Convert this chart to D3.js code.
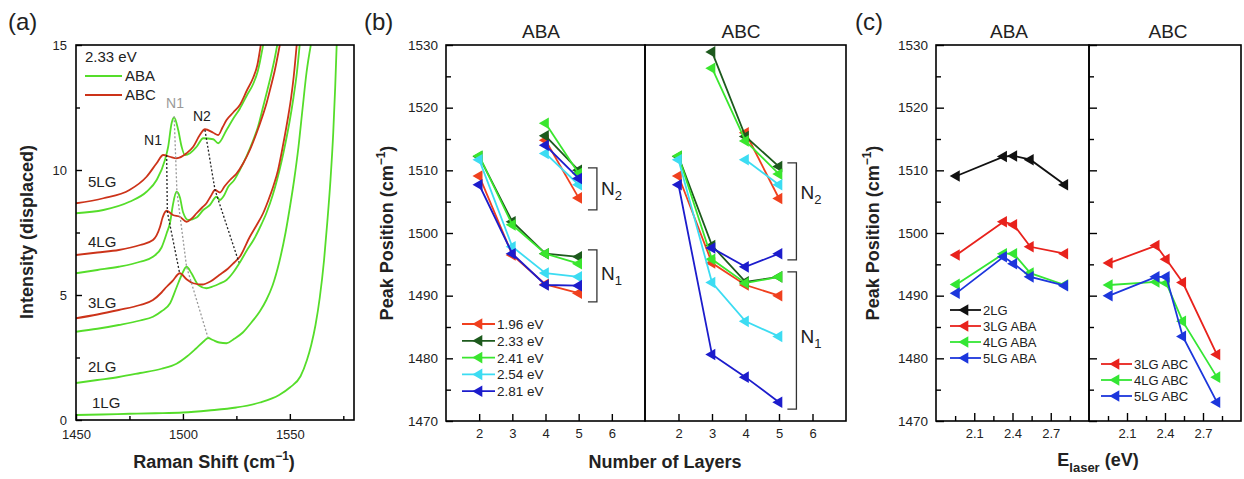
<!DOCTYPE html>
<html>
<head>
<meta charset="utf-8">
<script src="https://cdn.jsdelivr.net/npm/d3@7"></script>
<style>
  body { margin: 0; background: #fff; }
  svg { display: block; }
</style>
</head>
<body>
<svg id="fig" width="1244" height="479"></svg>
<script>
// ---------- (a) Raman spectra at 2.33 eV, vertically displaced: [shift cm^-1, intensity] ----------
const shiftTicks = [1450, 1500, 1550];
const shiftMinor = [1475, 1525, 1575];
const intensityTicks = [0, 5, 10, 15];
const intensityMinor = [2.5, 7.5, 12.5];

const spec1LG = [[1450,0.2],[1462,0.22],[1475,0.25],[1487,0.27],[1500,0.3],[1512,0.38],[1525,0.5],[1536,0.7],[1545,1.0],[1550,1.3],[1555,1.75],[1558,2.4],[1560,3.0],[1562,3.8],[1564,4.9],[1566,6.4],[1567.5,7.9],[1569,9.6],[1570.3,11.5],[1571.2,13.3],[1571.9,15]];
const spec2LG = [[1450,1.48],[1460,1.6],[1470,1.72],[1480,1.88],[1490,2.05],[1497,2.25],[1502,2.55],[1506,2.85],[1509.5,3.13],[1511.8,3.28],[1514,3.2],[1517,3.1],[1520.4,3.07],[1524,3.25],[1528,3.5],[1532,3.9],[1536,4.35],[1539,4.8],[1542,5.4],[1545,6.3],[1548,7.5],[1550,8.5],[1552,9.6],[1554,10.9],[1556,12.5],[1557.8,13.9],[1559.8,15]];
const spec3ABA = [[1450,3.53],[1460,3.65],[1470,3.8],[1480,3.98],[1486,4.13],[1490,4.35],[1494,4.67],[1497,5.3],[1499.4,5.8],[1501.7,6.13],[1504,5.87],[1507.2,5.4],[1511,5.27],[1514.2,5.35],[1517,5.45],[1520.4,5.6],[1523.5,5.9],[1526.6,6.3],[1530,6.8],[1533,7.2],[1536,7.7],[1539,8.27],[1542,9.0],[1544,9.6],[1546,10.3],[1548,11.1],[1550,12.0],[1551.7,12.9],[1553.3,13.9],[1554.6,15]];
const spec3ABC = [[1450,4.07],[1460,4.22],[1470,4.4],[1480,4.6],[1486,4.8],[1490,5.1],[1492.4,5.33],[1495,5.55],[1498.6,5.87],[1501.7,5.63],[1504.8,5.47],[1509,5.42],[1513,5.55],[1517,5.8],[1521,6.05],[1524,6.3],[1526.6,6.53],[1531.3,7.33],[1534.5,7.8],[1537.5,8.27],[1540,8.8],[1542.2,9.33],[1544.5,10.0],[1546.1,10.67],[1547.7,11.4],[1549.2,12.13],[1550.6,12.9],[1551.8,13.73],[1553.2,15]];
const spec4ABA = [[1450,5.87],[1460,6.0],[1470,6.13],[1480,6.33],[1486,6.53],[1490,6.9],[1492.4,7.47],[1494,7.9],[1495.3,8.6],[1497,9.13],[1498.6,8.9],[1500.1,8.3],[1502.5,8.0],[1506.4,8.1],[1509.5,8.4],[1512.6,8.6],[1515.7,8.93],[1517.3,8.8],[1519,8.95],[1521.2,9.33],[1524,9.6],[1526.6,10.0],[1530,10.6],[1532.9,11.2],[1535,11.7],[1537.5,12.53],[1539.5,13.2],[1541.4,13.87],[1543,14.5],[1544.1,15]];
const spec4ABC = [[1450,6.6],[1460,6.7],[1470,6.8],[1480,7.0],[1486,7.2],[1489.3,7.73],[1490.5,8.1],[1492.4,8.37],[1495.3,8.2],[1498.6,8.13],[1501.7,7.93],[1504,8.05],[1506.4,8.27],[1509,8.5],[1511,8.67],[1513,8.95],[1515,9.2],[1517.3,9.1],[1519.5,9.35],[1522,9.6],[1525,9.85],[1528.2,10.27],[1531.3,10.8],[1534.4,11.47],[1537,12.1],[1539.1,12.67],[1541,13.3],[1543,14.0],[1545.3,15]];
const spec5ABA = [[1450,8.27],[1462.8,8.4],[1475,8.73],[1483,9.13],[1487.7,9.6],[1491.6,10.4],[1493.1,10.93],[1494.7,11.87],[1495.9,12.1],[1497.8,11.6],[1499.4,10.93],[1500.9,10.6],[1503.3,10.67],[1506.4,10.93],[1509.5,11.27],[1514.2,11.23],[1516.5,11.07],[1520.4,11.6],[1523.5,12.05],[1526.6,12.45],[1530,13.0],[1532.9,13.45],[1535,13.95],[1537.5,15]];
const spec5ABC = [[1450,8.67],[1462.8,8.87],[1475,9.2],[1483,9.73],[1487.7,10.27],[1490.8,10.6],[1493.9,10.53],[1497.1,10.47],[1501.7,10.67],[1504.8,10.93],[1507.9,11.4],[1510.3,11.63],[1514.2,11.49],[1516.5,11.4],[1518.5,11.7],[1520.4,12.0],[1523.5,12.3],[1526.6,12.6],[1530,13.2],[1532.9,13.7],[1534.8,14.2],[1536.4,15]];

// dotted guides through the N1 / N2 peak positions
const guideN1ABC = [[1492.4,10.6],[1492.7,8.33],[1498.4,5.9]];
const guideN1ABA = [[1495.9,12.15],[1497.2,9.12],[1501.7,6.13],[1511.7,3.3]];
const guideN2ABC = [[1510.3,11.6],[1515,9.2],[1526.2,6.3]];

const layerNames = ["1LG", "2LG", "3LG", "4LG", "5LG"];
const layerLabelY = [0.69, 2.13, 4.69, 7.13, 9.53];

// ---------- (b), (c) peak positions (cm^-1) ----------
const laserEnergies = [1.96, 2.33, 2.41, 2.54, 2.81];
const energyLabels = ["1.96 eV", "2.33 eV", "2.41 eV", "2.54 eV", "2.81 eV"];
const layerTicks = [2, 3, 4, 5, 6];
const peakTicks = [1470, 1480, 1490, 1500, 1510, 1520, 1530];
const peakMinor = [1475, 1485, 1495, 1505, 1515, 1525];
const energyTicks = [2.1, 2.4, 2.7];
const energyMinor = [1.95, 2.25, 2.55, 2.85];

// one value per laser energy
const bilayer   = [1509.1, 1512.2, 1512.3, 1511.7, 1507.7];
const abaN1_3LG = [1496.5, 1501.8, 1501.3, 1497.8, 1496.7];
const abaN1_4LG = [1491.8, 1496.7, 1496.7, 1493.6, 1491.7];
const abaN1_5LG = [1490.4, 1496.2, 1495.1, 1493.0, 1491.6];
const abaN2_4LG = [1514.8, 1515.5, 1517.5, 1512.7, 1514.0];
const abaN2_5LG = [1505.6, 1510.0, 1509.5, 1507.7, 1508.7];
const abcN1_3LG = [1495.2, 1498.0, 1495.8, 1492.1, 1480.6];
const abcN1_4LG = [1491.7, 1492.2, 1492.0, 1485.9, 1477.0];
const abcN1_5LG = [1490.0, 1493.0, 1493.0, 1483.5, 1473.0];
const abcN2_3LG = [null, 1528.9, 1526.3, null, 1497.6];
const abcN2_4LG = [1516.0, 1515.4, 1514.7, 1511.7, 1494.6];
const abcN2_5LG = [1505.5, 1510.6, 1509.4, 1507.7, 1496.7];

const energyColors = ["#f0401e", "#1d5a1d", "#3ae62e", "#3cdcf2", "#1c1ccc"];

const FONT = "'Liberation Sans', Arial, Helvetica, sans-serif";
const svg = d3.select("#fig");

function box(x0, y0, x1, y1) {
  svg.append("rect").attr("x", x0).attr("y", y0)
    .attr("width", x1 - x0).attr("height", y1 - y0)
    .attr("fill", "none").attr("stroke", "#000").attr("stroke-width", 1.6);
}
function addAxis(gen, tx, ty, fs) {
  const g = svg.append("g").attr("transform", `translate(${tx},${ty})`).call(gen);
  g.select(".domain").remove();
  g.selectAll(".tick line").attr("stroke", "#000").attr("stroke-width", 1.4);
  g.selectAll("text").attr("font-family", FONT).attr("font-size", fs || 13).attr("fill", "#222");
  return g;
}
function text(x, y, s, opts = {}) {
  return svg.append("text").attr("x", x).attr("y", y)
    .attr("font-family", FONT).attr("font-size", opts.size || 13)
    .attr("font-weight", opts.bold ? "bold" : "normal")
    .attr("fill", opts.fill || "#222")
    .attr("text-anchor", opts.anchor || "start")
    .text(s);
}
const tri = d3.symbol().type(d3.symbolTriangle).size(58);
function markers(pts, xs, ys, color) {
  svg.append("g").selectAll("path").data(pts).join("path")
    .attr("d", tri)
    .attr("transform", d => `translate(${xs(d[0])},${ys(d[1])}) rotate(-90)`)
    .attr("fill", color);
}
function seriesLine(pts, xs, ys, color, w) {
  svg.append("path").datum(pts)
    .attr("d", d3.line().x(d => xs(d[0])).y(d => ys(d[1])))
    .attr("fill", "none").attr("stroke", color).attr("stroke-width", w || 1.7);
}
const intFmt = d3.format("d");

// panel letters
text(8, 30, "(a)", { size: 24 });
text(364, 30, "(b)", { size: 24 });
text(855, 30, "(c)", { size: 24 });

// =================== (a) ===================
const xA = d3.scaleLinear().domain([1450, 1580]).range([76, 354]);
const yA = d3.scaleLinear().domain([0, 15]).range([420, 45]);
const green = "#55dd2a", red = "#cc3319";

svg.append("clipPath").attr("id", "clipA").append("rect")
  .attr("x", 76).attr("y", 45).attr("width", 278).attr("height", 375);

const lineA = d3.line().x(d => xA(d[0])).y(d => yA(d[1])).curve(d3.curveMonotoneX);
const gA = svg.append("g").attr("clip-path", "url(#clipA)");
const spectra = [
  [spec1LG, green], [spec2LG, green],
  [spec3ABA, green], [spec3ABC, red],
  [spec4ABA, green], [spec4ABC, red],
  [spec5ABA, green], [spec5ABC, red]
];
spectra.forEach(([pts, c]) => {
  gA.append("path").datum(pts).attr("d", lineA)
    .attr("fill", "none").attr("stroke", c).attr("stroke-width", 1.8);
});
const guideLine = d3.line().x(d => xA(d[0])).y(d => yA(d[1]));
[[guideN1ABC, "#222"], [guideN2ABC, "#222"], [guideN1ABA, "#9a9a9a"]].forEach(([pts, c]) => {
  gA.append("path").datum(pts).attr("d", guideLine)
    .attr("fill", "none").attr("stroke", c).attr("stroke-width", 1.3)
    .attr("stroke-dasharray", "2,2");
});

box(76, 45, 354, 420);
addAxis(d3.axisBottom(xA).tickValues(shiftTicks).tickSize(-6).tickPadding(10).tickFormat(intFmt), 0, 420, 13);
addAxis(d3.axisBottom(xA).tickValues(shiftMinor).tickSize(-4).tickFormat(""), 0, 420);
addAxis(d3.axisLeft(yA).tickValues(intensityTicks).tickSize(-6).tickPadding(9).tickFormat(intFmt), 76, 0, 13);
addAxis(d3.axisLeft(yA).tickValues(intensityMinor).tickSize(-4).tickFormat(""), 76, 0);

// layer labels
layerNames.forEach((n, i) => {
  text(xA(i === 0 ? 1457.5 : 1455.6), yA(layerLabelY[i]) + 5, n, { size: 15 });
});
// peak labels
text(xA(1486), yA(11.2) + 5, "N1", { size: 14, anchor: "middle" });
text(xA(1496.3), yA(12.7) + 5, "N1", { size: 14, anchor: "middle", fill: "#999" });
text(xA(1508.9), yA(12.16) + 5, "N2", { size: 14, anchor: "middle" });
// legend
text(85, 62, "2.33 eV", { size: 15 });
svg.append("line").attr("x1", 85).attr("x2", 122).attr("y1", 76).attr("y2", 76).attr("stroke", green).attr("stroke-width", 2);
text(125, 81, "ABA", { size: 15 });
svg.append("line").attr("x1", 85).attr("x2", 122).attr("y1", 95).attr("y2", 95).attr("stroke", red).attr("stroke-width", 2);
text(125, 100, "ABC", { size: 15 });

// axis titles
svg.append("text").attr("transform", "translate(33,232) rotate(-90)")
  .attr("text-anchor", "middle").attr("font-family", FONT).attr("font-size", 18)
  .attr("font-weight", "bold").attr("fill", "#222").text("Intensity (displaced)");
const xtA = svg.append("text").attr("x", 214).attr("y", 468).attr("text-anchor", "middle")
  .attr("font-family", FONT).attr("font-size", 18).attr("font-weight", "bold").attr("fill", "#222");
xtA.append("tspan").text("Raman Shift (cm");
xtA.append("tspan").attr("dy", -8).attr("font-size", 12).text("\u22121");
xtA.append("tspan").attr("dy", 8).text(")");

// =================== (b) ===================
const yP = d3.scaleLinear().domain([1470, 1530]).range([421, 45]);
const xBa = d3.scaleLinear().domain([1, 7]).range([446, 645]);
const xBc = d3.scaleLinear().domain([1, 7]).range([645, 846]);

box(446, 45, 645, 421);
box(645, 45, 846, 421);
[xBa, xBc].forEach(xs => {
  addAxis(d3.axisBottom(xs).tickValues(layerTicks).tickSize(-7).tickPadding(8).tickFormat(intFmt), 0, 421, 13);
});
addAxis(d3.axisLeft(yP).tickValues(peakTicks).tickSize(-7).tickPadding(8).tickFormat(intFmt), 446, 0, 13.5);
addAxis(d3.axisLeft(yP).tickValues(peakMinor).tickSize(-5).tickFormat(""), 446, 0);

text(541, 38, "ABA", { size: 19, anchor: "middle" });
text(741, 38, "ABC", { size: 19, anchor: "middle" });

function pick(layers, arrays, i) {
  return layers.map((L, k) => [L, arrays[k][i]]).filter(d => d[1] != null);
}
laserEnergies.forEach((e, i) => {
  const c = energyColors[i];
  const sets = [
    [xBa, pick([2, 3, 4, 5], [bilayer, abaN1_3LG, abaN1_4LG, abaN1_5LG], i)],
    [xBa, pick([4, 5], [abaN2_4LG, abaN2_5LG], i)],
    [xBc, pick([2, 3, 4, 5], [bilayer, abcN1_3LG, abcN1_4LG, abcN1_5LG], i)],
    [xBc, pick([3, 4, 5], [abcN2_3LG, abcN2_4LG, abcN2_5LG], i)]
  ];
  sets.forEach(([xs, pts]) => {
    seriesLine(pts, xs, yP, c, 1.8);
    markers(pts, xs, yP, c);
  });
});

// N1 / N2 brackets
const brackets = [
  { xs: xBa, x0: 5.28, x1: 5.55, top: 1510.4, bottom: 1503.7, sub: "2", labelY: 1507.1 },
  { xs: xBa, x0: 5.28, x1: 5.55, top: 1497.3, bottom: 1489.0, sub: "1", labelY: 1493.5 },
  { xs: xBc, x0: 5.25, x1: 5.52, top: 1511.2, bottom: 1495.7, sub: "2", labelY: 1506.4 },
  { xs: xBc, x0: 5.25, x1: 5.52, top: 1493.8, bottom: 1471.9, sub: "1", labelY: 1483.4 }
];
brackets.forEach(b => {
  const x0 = b.xs(b.x0), x1 = b.xs(b.x1);
  svg.append("path")
    .attr("d", `M${x0},${yP(b.top)}H${x1}V${yP(b.bottom)}H${x0}`)
    .attr("fill", "none").attr("stroke", "#333").attr("stroke-width", 1.3);
  const t = svg.append("text").attr("x", x1 + 4).attr("y", yP(b.labelY) + 6)
    .attr("font-family", FONT).attr("font-size", 19).attr("fill", "#222");
  t.append("tspan").text("N");
  t.append("tspan").attr("dy", 5).attr("font-size", 13).text(b.sub);
});

// legend (b)
energyLabels.forEach((lab, i) => {
  const y = 324 + i * 16.8;
  svg.append("line").attr("x1", 462).attr("x2", 495).attr("y1", y).attr("y2", y)
    .attr("stroke", energyColors[i]).attr("stroke-width", 1.8);
  svg.append("path").attr("d", tri).attr("transform", `translate(479,${y}) rotate(-90)`).attr("fill", energyColors[i]);
  text(497, y + 5, lab, { size: 13.5 });
});

const tB = svg.append("text").attr("transform", "translate(393,233) rotate(-90)")
  .attr("text-anchor", "middle").attr("font-family", FONT).attr("font-size", 18)
  .attr("font-weight", "bold").attr("fill", "#222");
tB.append("tspan").text("Peak Position (cm");
tB.append("tspan").attr("dy", -8).attr("font-size", 12).text("\u22121");
tB.append("tspan").attr("dy", 8).text(")");
text(665, 468, "Number of Layers", { size: 18, bold: true, anchor: "middle" });

// =================== (c) ===================
const xCa = d3.scaleLinear().domain([1.8, 3.0]).range([936, 1089]);
const xCc = d3.scaleLinear().domain([1.8, 3.0]).range([1089, 1241]);

box(936, 45, 1089, 421);
box(1089, 45, 1241, 421);
[xCa, xCc].forEach(xs => {
  addAxis(d3.axisBottom(xs).tickValues(energyTicks).tickSize(-8).tickPadding(8).tickFormat(d3.format(".1f")), 0, 421, 13);
  addAxis(d3.axisBottom(xs).tickValues(energyMinor).tickSize(-5).tickFormat(""), 0, 421);
});
addAxis(d3.axisLeft(yP).tickValues(peakTicks).tickSize(-8).tickPadding(8).tickFormat(intFmt), 936, 0, 13.5);
addAxis(d3.axisLeft(yP).tickValues(peakMinor).tickSize(-5).tickFormat(""), 936, 0);
addAxis(d3.axisLeft(yP).tickValues(peakTicks).tickSize(-8).tickFormat(""), 1089, 0);
addAxis(d3.axisLeft(yP).tickValues(peakMinor).tickSize(-5).tickFormat(""), 1089, 0);

text(1009, 38, "ABA", { size: 19, anchor: "middle" });
text(1168, 38, "ABC", { size: 19, anchor: "middle" });

const cBlack = "#111111", cRed = "#e8221c", cGreen = "#34e634", cBlue = "#1c36dc";
const abaSeries = [
  ["2LG", bilayer, cBlack], ["3LG ABA", abaN1_3LG, cRed],
  ["4LG ABA", abaN1_4LG, cGreen], ["5LG ABA", abaN1_5LG, cBlue]
];
const abcSeries = [
  ["3LG ABC", abcN1_3LG, cRed], ["4LG ABC", abcN1_4LG, cGreen], ["5LG ABC", abcN1_5LG, cBlue]
];
abaSeries.forEach(([n, vals, c]) => {
  const pts = laserEnergies.map((e, i) => [e, vals[i]]);
  seriesLine(pts, xCa, yP, c, 1.8);
  markers(pts, xCa, yP, c);
});
abcSeries.forEach(([n, vals, c]) => {
  const pts = laserEnergies.map((e, i) => [e, vals[i]]);
  seriesLine(pts, xCc, yP, c, 1.8);
  markers(pts, xCc, yP, c);
});

function legendC(series, xl, y0) {
  series.forEach(([n, vals, c], i) => {
    const y = y0 + i * 16;
    svg.append("line").attr("x1", xl).attr("x2", xl + 31).attr("y1", y).attr("y2", y)
      .attr("stroke", c).attr("stroke-width", 1.8);
    svg.append("path").attr("d", tri).attr("transform", `translate(${xl + 15},${y}) rotate(-90)`).attr("fill", c);
    text(xl + 33, y + 5, n, { size: 13 });
  });
}
legendC(abaSeries, 950, 310);
legendC(abcSeries, 1101, 364);

const tC = svg.append("text").attr("transform", "translate(879,233) rotate(-90)")
  .attr("text-anchor", "middle").attr("font-family", FONT).attr("font-size", 18)
  .attr("font-weight", "bold").attr("fill", "#222");
tC.append("tspan").text("Peak Position (cm");
tC.append("tspan").attr("dy", -8).attr("font-size", 12).text("\u22121");
tC.append("tspan").attr("dy", 8).text(")");

const xtC = svg.append("text").attr("x", 1098).attr("y", 466).attr("text-anchor", "middle")
  .attr("font-family", FONT).attr("font-size", 18).attr("font-weight", "bold").attr("fill", "#222");
xtC.append("tspan").text("E");
xtC.append("tspan").attr("dy", 6).attr("font-size", 13).text("laser");
xtC.append("tspan").attr("dy", -6).text(" (eV)");
</script>
</body>
</html>
